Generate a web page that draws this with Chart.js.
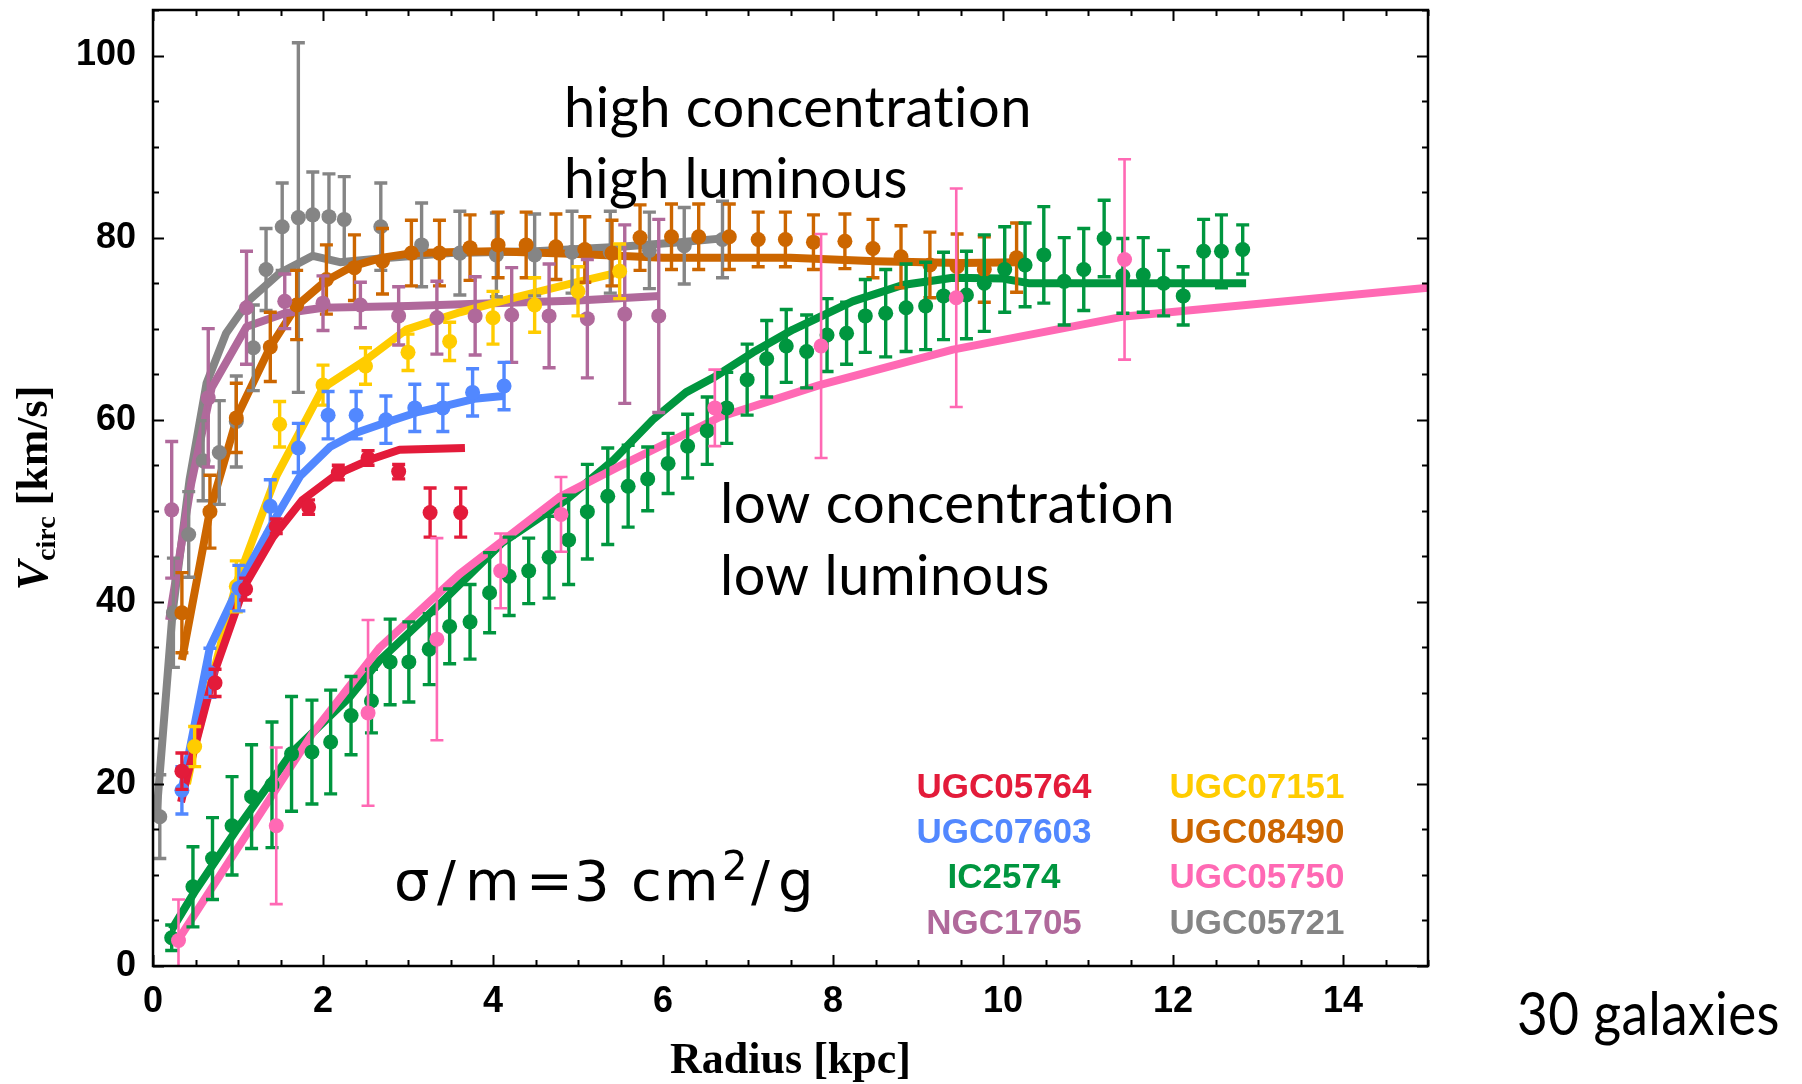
<!DOCTYPE html>
<html>
<head>
<meta charset="utf-8">
<script src="https://cdn.jsdelivr.net/npm/chart.js@4.4.1/dist/chart.umd.min.js"></script>
<style>
  html, body { margin: 0; padding: 0; background: #fff; }
  #wrap { width: 1802px; height: 1084px; }
</style>
</head>
<body>
<div id="wrap"><canvas id="rc" width="1802" height="1084"></canvas></div>
<script>
// UGC05764 (red)
const redX   = [0.34, 0.73, 1.09, 1.45, 1.83, 2.18, 2.53, 2.89, 3.26, 3.62];
const redV   = [21.4, 31.1, 41.4, 48.3, 50.4, 54.2, 55.8, 54.3, 49.8, 49.8];
const redErr = [2.0, 1.5, 1.2, 0.8, 0.8, 0.8, 0.8, 0.8, 2.7, 2.7];
const redFitX = [0.33, 0.4, 0.73, 1.08, 1.41, 1.76, 2.16, 2.55, 2.9, 3.67];
const redFitV = [18, 20.8, 32.5, 41.8, 47.1, 51.2, 54, 55.6, 56.7, 56.9];

// UGC07603 (blue)
const blueX   = [0.34, 0.67, 1.01, 1.38, 1.71, 2.06, 2.39, 2.74, 3.08, 3.41, 3.76, 4.13];
const blueV   = [19.3, 32.2, 41.5, 50.5, 56.9, 60.5, 60.5, 60.0, 61.3, 61.3, 63.0, 63.7];
const blueErr = [2.6, 2.7, 2.5, 2.9, 2.7, 2.6, 2.6, 2.6, 2.6, 2.6, 2.6, 2.6];
const blueFitX = [0.33, 0.67, 1.06, 1.41, 1.73, 2.08, 2.4, 2.74, 3.1, 3.43, 3.78, 4.12];
const blueFitV = [19, 35, 42.7, 48.7, 53.8, 57, 58.6, 59.7, 60.8, 61.5, 62.3, 62.6];

// IC2574 (green)
const greenX = [0.22, 0.47, 0.70, 0.93, 1.16, 1.40, 1.63, 1.87, 2.09, 2.33, 2.57, 2.79, 3.01, 3.25,
  3.49, 3.73, 3.96, 4.19, 4.42, 4.66, 4.89, 5.11, 5.35, 5.59, 5.82, 6.06, 6.29, 6.52, 6.75, 6.99,
  7.22, 7.45, 7.69, 7.93, 8.16, 8.38, 8.62, 8.86, 9.09, 9.30, 9.57, 9.78, 10.02, 10.26, 10.48,
  10.72, 10.95, 11.19, 11.41, 11.65, 11.89, 12.12, 12.36, 12.57, 12.82];
const greenV = [3.1, 8.7, 11.8, 15.4, 18.6, 19.9, 23.3, 23.5, 24.6, 27.5, 29.1, 33.4, 33.4, 34.8,
  37.3, 37.8, 41.0, 42.8, 43.4, 44.9, 46.8, 49.9, 51.6, 52.7, 53.5, 55.2, 57.1, 58.8, 61.3, 64.4,
  66.7, 68.1, 67.5, 69.3, 69.5, 71.4, 71.7, 72.3, 72.5, 73.6, 73.7, 75.0, 76.5, 77.0, 78.1,
  75.2, 76.5, 79.9, 75.8, 75.9, 75.0, 73.6, 78.5, 78.5, 78.7];
const greenErr = [1.4, 4.4, 4.5, 5.4, 5.7, 6.9, 6.3, 5.7, 5.7, 4.3, 3.5, 4.7, 4.4, 3.9,
  4.1, 4.1, 4.4, 4.3, 3.6, 4.5, 4.9, 5.2, 5.3, 4.5, 3.5, 3.3, 3.5, 3.7, 3.9, 3.9,
  4.2, 4.0, 4.0, 4.0, 3.4, 4.0, 4.8, 4.8, 4.8, 4.8, 4.8, 5.3, 4.7, 4.6, 5.3,
  4.8, 4.5, 4.2, 4.1, 4.1, 3.6, 3.2, 3.5, 4.0, 2.7];
const greenFitX = [0.22, 0.5, 1.0, 1.63, 2.31, 2.67, 3.4, 4.11, 4.86, 5.41, 5.88, 6.27, 6.59, 7.06,
  7.53, 8.23, 8.82, 9.41, 10.0, 10.3, 11.0, 12.0, 12.86];
const greenFitV = [4, 8.3, 15.2, 23.4, 29.5, 33.6, 40, 46.5, 51.2, 55.5, 60, 63, 64.6, 67.4,
  69.9, 73, 74.8, 75.6, 75.5, 75.0, 75.0, 75.0, 75.0];

// NGC1705 (purple)
const purpleX   = [0.22, 0.65, 1.1, 1.55, 2.0, 2.44, 2.89, 3.34, 3.79, 4.22, 4.66, 5.11, 5.55, 5.95];
const purpleV   = [50.1, 62.4, 72.3, 73.0, 72.8, 72.6, 71.4, 71.2, 71.4, 71.5, 71.4, 71.1, 71.6, 71.4];
const purpleErr = [7.5, 7.6, 6.2, 3.0, 3.0, 2.5, 3.2, 4.0, 4.3, 5.2, 5.7, 6.5, 9.8, 10.6];
const purpleFitX = [0.19, 0.45, 0.69, 1.1, 1.55, 2.0, 3.0, 4.0, 5.0, 5.96];
const purpleFitV = [38, 53, 63.5, 70.2, 71.7, 72.3, 72.5, 72.8, 73.1, 73.6];

// UGC07151 (yellow)
const yellowX   = [0.49, 0.98, 1.49, 2.0, 2.5, 3.0, 3.49, 4.0, 4.49, 5.0, 5.49];
const yellowV   = [24.1, 41.7, 59.5, 63.8, 65.9, 67.4, 68.6, 71.2, 72.6, 74.1, 76.3];
const yellowErr = [2.2, 2.8, 2.5, 2.2, 2.0, 2.0, 2.1, 2.9, 3.0, 2.7, 3.0];
const yellowFitX = [0.4, 0.5, 0.98, 1.45, 2.0, 2.51, 2.98, 3.61, 4.16, 4.94, 5.53];
const yellowFitV = [20, 24.5, 42, 53.8, 63.5, 66.6, 69.9, 71.8, 73.2, 75, 76.3];

// UGC08490 (orange)
const orangeX = [0.34, 0.67, 0.98, 1.38, 1.69, 2.04, 2.37, 2.7, 3.04, 3.37, 3.73, 4.06, 4.39, 4.74,
  5.08, 5.4, 5.73, 6.1, 6.42, 6.78, 7.12, 7.44, 7.77, 8.14, 8.47, 8.8, 9.14, 9.46, 9.78, 10.16];
const orangeV = [38.8, 49.9, 60.2, 68, 72.6, 75.4, 76.7, 77.4, 78.3, 78.3, 78.9, 79.2, 79.2, 79.0,
  78.7, 78.3, 80.0, 80.1, 80.1, 80.1, 79.8, 79.8, 79.5, 79.6, 78.8, 77.9, 77.0, 76.8, 76.5, 77.8];
const orangeErr = [4.4, 4.0, 3.8, 3.8, 3.8, 3.8, 3.6, 3.6, 3.6, 3.6, 3.6, 3.6, 3.6, 3.6,
  3.6, 3.6, 3.6, 3.6, 3.6, 3.6, 3.0, 3.0, 3.0, 3.0, 3.2, 3.4, 3.6, 3.6, 3.6, 3.8];
const orangeFitX = [0.34, 0.67, 1.0, 1.38, 1.69, 2.04, 2.36, 2.7, 3.05, 4.0, 5.0, 6.0, 7.5, 8.5, 9.5, 10.2];
const orangeFitV = [33.6, 50, 60.6, 68, 72.5, 75.3, 76.9, 77.8, 78.3, 78.5, 78.2, 77.8, 77.8, 77.4, 77.2, 77.3];

// UGC05750 (pink)
const pinkX   = [0.3, 1.45, 2.53, 3.34, 4.09, 4.8, 6.61, 7.86, 9.45, 11.43];
const pinkV   = [2.8, 15.4, 27.8, 35.9, 43.4, 49.6, 61.3, 68.1, 73.4, 77.6];
const pinkErr = [4.5, 8.6, 10.2, 11.1, 4.1, 4.1, 4.2, 12.3, 12.0, 11.0];
const pinkFitX = [0.27, 1.0, 1.88, 2.67, 3.6, 4.78, 5.49, 6.67, 7.84, 9.41, 11.4, 15.0];
const pinkFitV = [2.5, 13.0, 25.6, 35, 43, 51.5, 54.9, 60.3, 63.8, 67.7, 71.3, 74.5];

// UGC05721 (gray)
const grayX = [0.08, 0.24, 0.42, 0.59, 0.78, 0.98, 1.18, 1.33, 1.52, 1.71, 1.88, 2.07, 2.25, 2.68,
  3.16, 3.61, 4.04, 4.49, 4.93, 5.38, 5.84, 6.25, 6.7];
const grayV = [16.4, 38.8, 47.4, 55.5, 56.4, 59.8, 67.9, 76.5, 81.2, 82.2, 82.5, 82.3, 82.0, 81.2,
  79.2, 78.3, 78.1, 78.1, 78.4, 78.4, 78.6, 79.1, 79.8];
const grayErr = [4.6, 6.0, 4.7, 4.4, 5.7, 5.0, 4.7, 4.5, 4.8, 19.2, 4.7, 4.7, 4.7, 4.8,
  4.6, 4.6, 4.6, 4.5, 4.5, 4.5, 4.2, 4.2, 4.2];
const grayFitX = [0.04, 0.23, 0.43, 0.63, 0.86, 1.14, 1.49, 1.88, 2.2, 2.67, 3.5, 4.5, 5.5, 6.2, 6.8];
const grayFitV = [16.5, 38.8, 53.4, 64, 69.5, 73.2, 76.1, 78, 77.3, 77.7, 78.3, 78.5, 79, 79.5, 80];

const xMajor = [0, 2, 4, 6, 8, 10, 12, 14];
const yMajor = [0, 20, 40, 60, 80, 100];

// drawn bottom to top
const galaxies = [
  {name: 'UGC05721', color: '#858585', x: grayX, v: grayV, err: grayErr, fx: grayFitX, fv: grayFitV},
  {name: 'UGC08490', color: '#cc6600', x: orangeX, v: orangeV, err: orangeErr, fx: orangeFitX, fv: orangeFitV},
  {name: 'NGC1705', color: '#b0699b', x: purpleX, v: purpleV, err: purpleErr, fx: purpleFitX, fv: purpleFitV},
  {name: 'UGC07151', color: '#ffcc00', x: yellowX, v: yellowV, err: yellowErr, fx: yellowFitX, fv: yellowFitV},
  {name: 'UGC07603', color: '#5288ff', x: blueX, v: blueV, err: blueErr, fx: blueFitX, fv: blueFitV},
  {name: 'UGC05764', color: '#e31b3a', x: redX, v: redV, err: redErr, fx: redFitX, fv: redFitV},
  {name: 'IC2574', color: '#00963f', x: greenX, v: greenV, err: greenErr, fx: greenFitX, fv: greenFitV},
  {name: 'UGC05750', color: '#ff69b4', x: pinkX, v: pinkV, err: pinkErr, fx: pinkFitX, fv: pinkFitV, thin: true}
];

const pairs = (xs, ys) => xs.map((x, i) => ({x: x, y: ys[i]}));

let datasets = [];
galaxies.forEach((g, r) => {
  datasets.push({
    label: g.name + ' fit', data: pairs(g.fx, g.fv), showLine: true,
    borderColor: g.color, borderWidth: 8, pointRadius: 0, borderJoinStyle: 'round',
    order: 40 - r
  });
  datasets.push({
    label: g.name, data: pairs(g.x, g.v), showLine: false, errs: g.err,
    errWidth: g.thin ? 2.6 : 3.4, backgroundColor: g.color, borderWidth: 0,
    pointRadius: 7.5, pointBorderWidth: 0,
    order: 20 - r
  });
});

const FONT_TXT = '"Lato", "Open Sans", sans-serif';

function fitText(ctx, str, x, y, font, w) {
  ctx.font = font;
  ctx.letterSpacing = '0.5px';   // also keeps "ti" from turning into a ligature
  const m = ctx.measureText(str).width;
  ctx.save();
  ctx.translate(x, y);
  ctx.scale(w / m, 1);
  ctx.fillText(str, 0, 0);
  ctx.restore();
  ctx.letterSpacing = '0px';
}

const decor = {
  id: 'decor',
  beforeDatasetDraw(chart, args) {
    const ds = chart.data.datasets[args.index];
    if (!ds.errs) return;
    const {ctx, chartArea: a} = chart;
    const xs = chart.scales.x, ys = chart.scales.y;
    ctx.save();
    ctx.beginPath();
    ctx.rect(a.left, a.top, a.right - a.left, a.bottom - a.top);
    ctx.clip();
    ctx.strokeStyle = ds.backgroundColor;
    ctx.lineWidth = ds.errWidth;
    ds.data.forEach((p, i) => {
      const px = xs.getPixelForValue(p.x);
      const y1 = ys.getPixelForValue(p.y + ds.errs[i]);
      const y2 = ys.getPixelForValue(p.y - ds.errs[i]);
      ctx.beginPath();
      ctx.moveTo(px, y1); ctx.lineTo(px, y2);
      ctx.moveTo(px - 6.5, y1); ctx.lineTo(px + 6.5, y1);
      ctx.moveTo(px - 6.5, y2); ctx.lineTo(px + 6.5, y2);
      ctx.stroke();
    });
    ctx.restore();
  },
  afterDatasetsDraw(chart) {
    const ctx = chart.ctx;
    ctx.save();
    ctx.fillStyle = '#000';
    ctx.textAlign = 'left';
    ctx.textBaseline = 'alphabetic';
    fitText(ctx, 'high concentration', 564, 127, '57px ' + FONT_TXT, 468);
    fitText(ctx, 'high luminous', 564, 198, '57px ' + FONT_TXT, 344);
    fitText(ctx, 'low concentration', 720, 523, '57px ' + FONT_TXT, 455);
    fitText(ctx, 'low luminous', 720, 595, '57px ' + FONT_TXT, 330);

    // sigma/m label
    ctx.font = '56px "DejaVu Sans"';
    [['σ', 394], ['/', 437], ['m', 465], ['=', 526], ['3', 574], ['c', 631], ['m', 664], ['/', 751], ['g', 778]]
      .forEach(p => ctx.fillText(p[0], p[1], 900));
    ctx.font = '40px "DejaVu Sans"';
    ctx.fillText('2', 722, 880);

    // galaxy names
    ctx.font = 'bold 35px "Liberation Sans"';
    ctx.textAlign = 'center';
    const left = ['UGC05764', 'UGC07603', 'IC2574', 'NGC1705'];
    const right = ['UGC07151', 'UGC08490', 'UGC05750', 'UGC05721'];
    const base = [798, 843, 888, 934];
    const col = n => galaxies.find(g => g.name === n).color;
    left.forEach((n, i) => { ctx.fillStyle = col(n); ctx.fillText(n, 1004, base[i]); });
    right.forEach((n, i) => { ctx.fillStyle = col(n); ctx.fillText(n, 1257, base[i]); });
    ctx.restore();
  },
  afterDraw(chart) {
    const {ctx, chartArea: a} = chart;
    const xs = chart.scales.x, ys = chart.scales.y;
    ctx.save();
    ctx.strokeStyle = '#000';
    ctx.lineWidth = 2;
    ctx.beginPath();
    for (let v = 0; v <= 15.001; v += 0.5) {
      const px = Math.round(xs.getPixelForValue(v)) + 0.5;
      const len = (Math.abs(v % 2) < 0.01) ? 11 : 6;
      ctx.moveTo(px, a.bottom); ctx.lineTo(px, a.bottom - len);
      ctx.moveTo(px, a.top); ctx.lineTo(px, a.top + len);
    }
    for (let v = 0; v <= 105.001; v += 5) {
      const py = Math.round(ys.getPixelForValue(v)) + 0.5;
      const len = (v % 20 === 0) ? 11 : 6;
      ctx.moveTo(a.left, py); ctx.lineTo(a.left + len, py);
      ctx.moveTo(a.right, py); ctx.lineTo(a.right - len, py);
    }
    ctx.stroke();
    ctx.lineWidth = 2.5;
    ctx.strokeRect(a.left, a.top, a.right - a.left, a.bottom - a.top);

    // axis titles
    ctx.fillStyle = '#000';
    ctx.textBaseline = 'alphabetic';
    ctx.textAlign = 'center';
    ctx.font = 'bold 44px "Liberation Serif"';
    ctx.fillText('Radius [kpc]', (a.left + a.right) / 2, 1073);

    ctx.translate(47, (a.top + a.bottom) / 2);
    ctx.rotate(-Math.PI / 2);
    ctx.textAlign = 'left';
    ctx.font = 'italic bold 44px "Liberation Serif"';
    const wV = ctx.measureText('V').width;
    ctx.font = 'bold 28px "Liberation Serif"';
    const wC = ctx.measureText('circ').width;
    ctx.font = 'bold 44px "Liberation Serif"';
    const wU = ctx.measureText(' [km/s]').width;
    let s = -(wV + wC + wU) / 2;
    ctx.font = 'italic bold 44px "Liberation Serif"';
    ctx.fillText('V', s, 0);
    ctx.font = 'bold 28px "Liberation Serif"';
    ctx.fillText('circ', s + wV, 8);
    ctx.font = 'bold 44px "Liberation Serif"';
    ctx.fillText(' [km/s]', s + wV + wC, 0);
    ctx.restore();

    ctx.save();
    ctx.fillStyle = '#000';
    fitText(ctx, '30 galaxies', 1517, 1035, '60px ' + FONT_TXT, 263);
    ctx.restore();
  }
};

const tickFont = {family: 'Liberation Sans', weight: 'bold', size: 36};

new Chart(document.getElementById('rc'), {
  type: 'scatter',
  data: {datasets: datasets},
  options: {
    responsive: false,
    animation: false,
    devicePixelRatio: 1,
    events: [],
    layout: {padding: {left: 0, top: 10, right: 374, bottom: 0}},
    plugins: {legend: {display: false}, tooltip: {enabled: false}},
    scales: {
      x: {
        type: 'linear', min: 0, max: 15,
        afterBuildTicks: s => { s.ticks = xMajor.map(v => ({value: v})); },
        afterFit: s => { s.height = 118; s.paddingLeft = 0; s.paddingRight = 0; },
        ticks: {font: tickFont, color: '#000', padding: 14, maxRotation: 0, autoSkip: false},
        grid: {display: false, drawTicks: false},
        border: {display: false}
      },
      y: {
        type: 'linear', min: 0, max: 105,
        afterBuildTicks: s => { s.ticks = yMajor.map(v => ({value: v})); },
        afterFit: s => { s.width = 153; s.paddingTop = 0; s.paddingBottom = 0; },
        ticks: {font: tickFont, color: '#000', padding: 17, autoSkip: false},
        grid: {display: false, drawTicks: false},
        border: {display: false}
      }
    }
  },
  plugins: [decor]
});
</script>
</body>
</html>
